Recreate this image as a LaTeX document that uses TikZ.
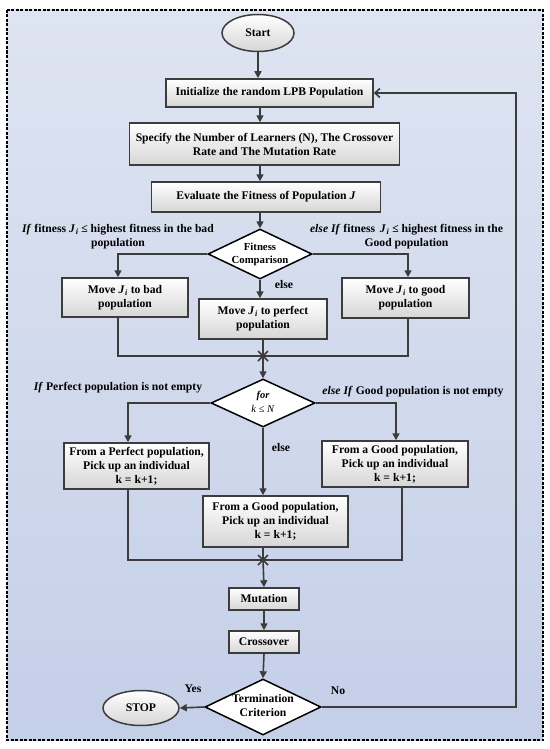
\documentclass[tikz,border=0pt]{standalone}
\usepackage{fontspec}
\setmainfont{Liberation Serif}
\usetikzlibrary{shapes.geometric,arrows.meta}
\definecolor{bgtop}{RGB}{222,228,241}
\definecolor{bgbot}{RGB}{196,207,232}
\definecolor{lnc}{RGB}{60,60,60}
\definecolor{boxbot}{RGB}{214,214,214}
\newcommand\dtxt[1]{\raisebox{-0.25em}[0pt][0pt]{\makebox[0pt]{\begin{tabular}{@{}c@{}}#1\end{tabular}}}}
\newcommand\Ji{\textit{J}\kern0.5pt\textsubscript{\textit{i}}}
\tikzset{
  base/.style={font=\bfseries\fontsize{11.7}{14}\selectfont, text=black},
  pbox/.style={base, rectangle, draw=lnc, line width=1.5bp, top color=white, bottom color=boxbot, inner sep=0pt, align=center},
  oval/.style={base, ellipse, draw=lnc, line width=1.5bp, top color=white, bottom color=boxbot, inner sep=0pt},
  dia/.style={base, diamond, draw=black, line width=1.5bp, fill=white, inner sep=0pt},
  lab/.style={base, align=center, inner sep=0pt},
  arr/.style={draw=lnc, line width=1.6bp, -{Triangle[length=7bp,width=7bp]}},
  arrb/.style={draw=lnc, line width=1.6bp, -{Straight Barb[length=5bp,width=9bp]}},
  ln/.style={draw=lnc, line width=1.6bp},
}
\begin{document}
\begin{tikzpicture}[x=1bp,y=-1bp]
\useasboundingbox (0,0) rectangle (550,749);
\fill[white] (0,0) rectangle (550,749);
\path[top color=bgtop, bottom color=bgbot] (7,10) rectangle (543,740);
\draw[black, line width=1.6bp, dash pattern=on 3bp off 1.5bp] (7,10) rectangle (543,740);

% nodes
\node[oval, minimum width=72bp, minimum height=37bp] (start) at (258,33) {Start};
\node[pbox, minimum width=207bp, minimum height=28bp] (init) at (269.5,93) {Initialize the random LPB Population};
\node[pbox, minimum width=270bp, minimum height=42bp] (spec) at (264.5,144) {Specify the Number of Learners (N), The Crossover\\Rate and The Mutation Rate};
\node[pbox, minimum width=229bp, minimum height=30bp] (eval) at (266,197) {Evaluate the Fitness of Population \textit{J}};
\node[dia, minimum width=104bp, minimum height=50bp] (fit) at (260,254) {\fontsize{10.8}{13}\selectfont\dtxt{Fitness\\Comparison}};
\node[pbox, minimum width=126bp, minimum height=39bp] (bad) at (125,297.5) {Move \Ji{} to bad\\population};
\node[pbox, minimum width=127bp, minimum height=40bp] (good) at (405.5,298) {Move \Ji{} to good\\population};
\node[pbox, minimum width=128bp, minimum height=40bp] (perf) at (263,319) {Move \Ji{} to perfect\\population};

\node[dia, minimum width=104bp, minimum height=48bp] (for) at (263,403) {\fontsize{10.5}{14}\selectfont\dtxt{\textit{for}\\\mdseries\textit{k} ≤ \textit{N}}};
\node[pbox, minimum width=145bp, minimum height=46bp] (lft) at (136.5,466) {From a Perfect population,\\Pick up an individual\\k = k+1;};
\node[pbox, minimum width=146bp, minimum height=46bp] (rgt) at (395,464) {From a Good population,\\Pick up an individual\\k = k+1;};
\node[pbox, minimum width=145bp, minimum height=51bp] (mid) at (275.5,521.5) {From a Good population,\\Pick up an individual\\k = k+1;};

\node[pbox, minimum width=70bp, minimum height=22bp] (mut) at (264,599) {Mutation};
\node[pbox, minimum width=70bp, minimum height=22bp] (cro) at (264,642) {Crossover};
\node[dia, minimum width=116bp, minimum height=56bp] (term) at (263,707) {\dtxt{Termination\\Criterion}};
\node[oval, minimum width=76bp, minimum height=35bp] (stop) at (141,708) {STOP};

% labels
\node[lab] (l1) at (118,237) {\textit{If} fitness \Ji{} ≤ highest fitness in the bad\\population};
\node[lab] (r1) at (406.5,237) {\textit{else If} fitness\, \Ji{} ≤ highest fitness in the\\Good population};
\node[lab] (e1) at (284,285) {else};
\node[lab] (l2) at (118,388) {\textit{If} Perfect population is not empty};
\node[lab] (r2) at (413,392) {\textit{else If} Good population is not empty};
\node[lab] (e2) at (281,448) {else};
\node[lab] (yes) at (193,689) {Yes};
\node[lab] (no) at (338,691) {No};

% helper coordinates
\coordinate (cA) at (260,0);
\coordinate (xL1) at (118,0);
\coordinate (xR1) at (408,0);
\coordinate (m1) at (263,356);
\coordinate (xL2) at (128,0);
\coordinate (xR2) at (396,0);
\coordinate (xR2b) at (402,0);
\coordinate (m2) at (263,560);
\coordinate (fbx) at (516,0);

% connectors
\draw[arr] (start.south) -- (start.south |- init.north);
\draw[arr] (cA |- init.south) -- (cA |- spec.north);
\draw[arr] (cA |- spec.south) -- (cA |- eval.north);
\draw[arr] (cA |- eval.south) -- (fit.north);
\draw[arr] (fit.west) -| (xL1 |- bad.north);
\draw[arr] (fit.east) -| (xR1 |- good.north);
\draw[arr] (fit.south) -- (fit.south |- perf.north);
\draw[ln] (xL1 |- bad.south) |- (m1) -| (xR1 |- good.south);
\draw[ln] (m1 |- perf.south) -- (m1);
\draw[arr] (m1) -- (for.north);
\draw[ln] (m1) ++(-5,-5) -- ++(10,10) (m1) ++(-5,5) -- ++(10,-10);

\draw[arr] (for.west) -| (xL2 |- lft.north);
\draw[arr] (for.east) -| (xR2 |- rgt.north);
\draw[arr] (for.south) -- (for.south |- mid.north);
\draw[ln] (xL2 |- lft.south) |- (m2) -| (xR2b |- rgt.south);
\draw[ln] (m2 |- mid.south) -- (m2);
\draw[arr] (m2) -- (mut.north);
\draw[ln] (m2) ++(-5,-5) -- ++(10,10) (m2) ++(-5,5) -- ++(10,-10);

\draw[arr] (mut.south) -- (cro.north);
\draw[arr] (cro.south) -- (term.north);
\draw[arr] (term.west) -- (stop.east);
\draw[arrb] (term.east) -| (fbx |- init.east) -- (init.east);
\end{tikzpicture}
\end{document}
